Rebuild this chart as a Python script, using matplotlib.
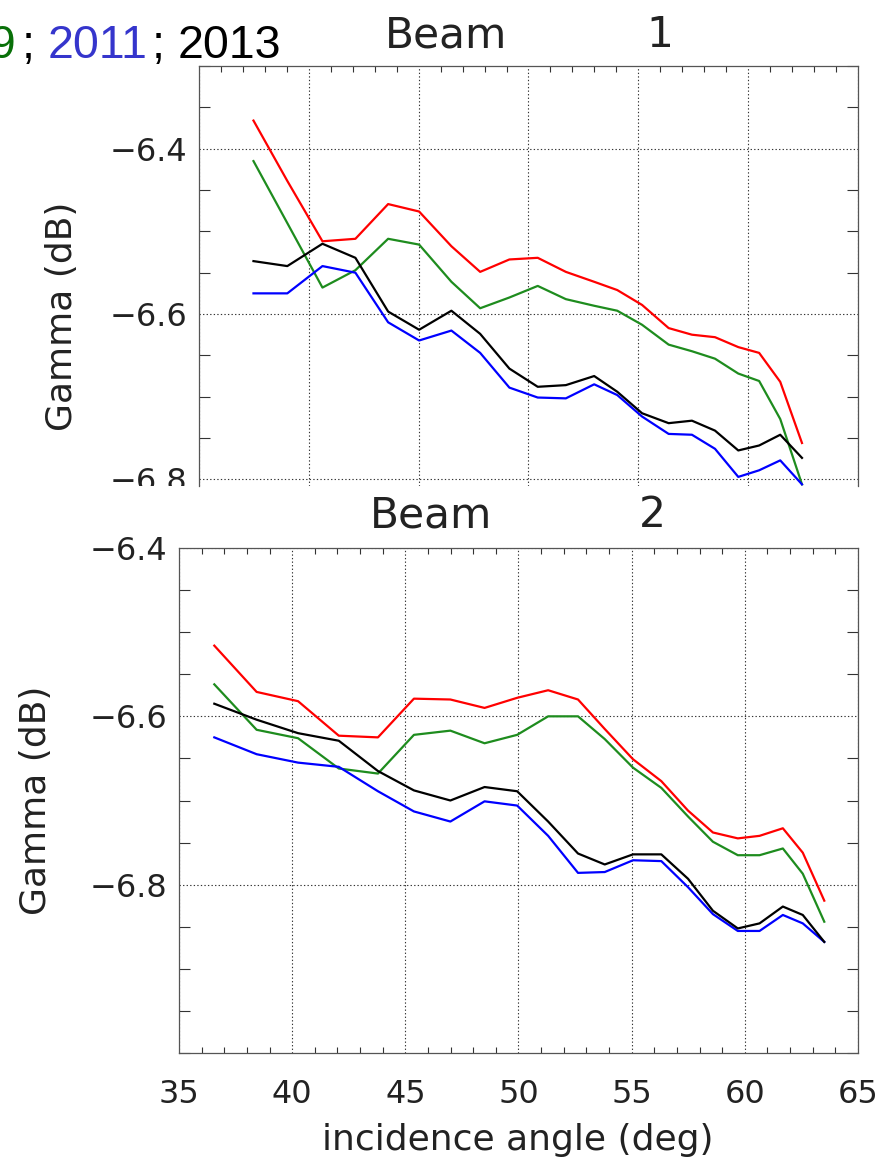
import matplotlib
matplotlib.use("Agg")
import matplotlib.pyplot as plt
from matplotlib.ticker import MultipleLocator, FixedLocator
from matplotlib.patches import Rectangle

# incidence angles of the range bins (deg)
angle_b1 = [37.48, 39.02, 40.62, 42.12, 43.61, 45.02, 46.49, 47.80, 49.13, 50.42, 51.70,
            52.99, 54.04, 55.17, 56.38, 57.44, 58.49, 59.55, 60.50, 61.46, 62.45]
angle_b2 = [36.56, 38.43, 40.26, 42.06, 43.79, 45.38, 46.99, 48.50, 49.94, 51.31, 52.63,
            53.81, 55.06, 56.31, 57.49, 58.59, 59.69, 60.65, 61.68, 62.56, 63.51]

# Beam 1 gamma (dB)
b1_red = [-6.366, -6.439, -6.512, -6.509, -6.467, -6.476, -6.518, -6.549, -6.534, -6.532, -6.549,
          -6.561, -6.571, -6.589, -6.617, -6.625, -6.628, -6.640, -6.647, -6.682, -6.756]
b1_green = [-6.415, -6.490, -6.568, -6.547, -6.509, -6.516, -6.561, -6.593, -6.580, -6.566, -6.582,
            -6.590, -6.596, -6.613, -6.637, -6.645, -6.654, -6.672, -6.681, -6.727, -6.806]
b1_blue = [-6.575, -6.575, -6.542, -6.550, -6.610, -6.632, -6.620, -6.647, -6.689, -6.701, -6.702,
           -6.685, -6.698, -6.724, -6.745, -6.746, -6.763, -6.797, -6.789, -6.777, -6.806]
b1_black = [-6.536, -6.542, -6.515, -6.532, -6.597, -6.619, -6.596, -6.624, -6.666, -6.688, -6.686,
            -6.675, -6.694, -6.720, -6.732, -6.729, -6.741, -6.765, -6.759, -6.746, -6.774]

# Beam 2 gamma (dB)
b2_red = [-6.516, -6.571, -6.582, -6.623, -6.625, -6.579, -6.580, -6.590, -6.578, -6.569, -6.580,
          -6.615, -6.651, -6.677, -6.712, -6.738, -6.745, -6.742, -6.733, -6.762, -6.819]
b2_green = [-6.562, -6.616, -6.626, -6.662, -6.668, -6.622, -6.617, -6.632, -6.622, -6.600, -6.600,
            -6.627, -6.661, -6.685, -6.719, -6.749, -6.765, -6.765, -6.757, -6.787, -6.844]
b2_blue = [-6.625, -6.645, -6.655, -6.660, -6.689, -6.713, -6.725, -6.701, -6.706, -6.742, -6.786,
           -6.785, -6.771, -6.772, -6.803, -6.835, -6.855, -6.855, -6.836, -6.846, -6.868]
b2_black = [-6.585, -6.604, -6.620, -6.629, -6.665, -6.688, -6.700, -6.684, -6.689, -6.725, -6.763,
            -6.776, -6.764, -6.764, -6.793, -6.831, -6.852, -6.846, -6.826, -6.836, -6.868]

years = ["2009", "2011", "2013"]
GREEN = "#1e8c1e"
W, H = 884, 1167

fig = plt.figure(figsize=(W / 100, H / 100), dpi=100)
plt.rcParams['font.family'] = ['DejaVu Sans']


def add_ax(left, top, right, bottom):
    return fig.add_axes([left / W, 1 - bottom / H, (right - left) / W, (bottom - top) / H])


def style(ax, ylo, yhi):
    ax.set_xlim(35, 65)
    ax.set_ylim(ylo, yhi)
    ax.xaxis.set_major_locator(MultipleLocator(5))
    ax.xaxis.set_minor_locator(MultipleLocator(1))
    ax.yaxis.set_major_locator(FixedLocator([-6.8, -6.6, -6.4]))
    ax.yaxis.set_minor_locator(MultipleLocator(0.05))
    ax.tick_params(which='major', length=0, labelsize=23, colors='#222222')
    ax.tick_params(axis='y', which='major', pad=8.5)
    ax.tick_params(axis='x', which='major', pad=19)
    ax.tick_params(which='minor', direction='in', top=True, right=True, width=0.8, color='#333333')
    ax.tick_params(axis='x', which='minor', length=4.5)
    ax.tick_params(axis='y', which='minor', length=8)
    ax.yaxis.set_major_formatter(plt.FuncFormatter(lambda v, p: "\u2212%.1f" % abs(v)))
    ax.grid(True, which='major', linestyle=(0, (1.2, 2.0)), color='#333333', linewidth=0.8)
    for s in ax.spines.values():
        s.set_linewidth(0.9)
        s.set_color('#555555')


def draw(ax, x, red, green, blue, black):
    ax.plot(x, red, color='#ff0000', lw=1.6)
    ax.plot(x, green, color=GREEN, lw=1.6)
    ax.plot(x, blue, color='#0000ff', lw=1.6)
    ax.plot(x, black, color='black', lw=1.6)


# top panel (Beam 1), its lower edge is cut off
ax1 = add_ax(199, 66, 858, 486)
style(ax1, -6.808, -6.3)
ax1.spines['bottom'].set_visible(False)
ax1.tick_params(axis='x', which='both', bottom=False, labelbottom=False)
draw(ax1, angle_b1, b1_red, b1_green, b1_blue, b1_black)

# bottom panel (Beam 2)
ax2 = add_ax(179, 548, 858, 1053)
style(ax2, -7.0, -6.4)
draw(ax2, angle_b2, b2_red, b2_green, b2_blue, b2_black)

# hide lower half of the clipped -6.8 label
fig.patches.append(Rectangle((0, 1 - 500 / H), 198 / W, 14 / H, transform=fig.transFigure,
                             facecolor='white', edgecolor='none', zorder=10))

# titles
fig.text(385 / W, 1 - 47 / H, "Beam", fontsize=30.5, ha='left', va='baseline', color='#222222')
fig.text(660 / W, 1 - 47 / H, "1", fontsize=30.5, ha='center', va='baseline', color='#222222')
fig.text(370 / W, 1 - 527 / H, "Beam", fontsize=30.5, ha='left', va='baseline', color='#222222')
fig.text(652 / W, 1 - 527 / H, "2", fontsize=30.5, ha='center', va='baseline', color='#222222')

# axis labels
fig.text(62 / W, 1 - 316 / H, "Gamma (dB)", fontsize=26, rotation=90, ha='center', va='center', color='#222222')
fig.text(36 / W, 1 - 800 / H, "Gamma (dB)", fontsize=26, rotation=90, ha='center', va='center', color='#222222')
fig.text(518 / W, 1 - 1140 / H, "incidence angle (deg)", fontsize=26, ha='center', va='center', color='#222222')

# year legend, cut by the left edge
yr = dict(fontsize=33.5, fontfamily='Liberation Sans', va='baseline')
base = 1 - 58 / H
fig.text(16 / W, base, years[0], ha='right', color='#087008', **yr)
fig.text(22 / W, base, ";", ha='left', color='black', **yr)
fig.text(48 / W, base, years[1], ha='left', color='#3535cc', **yr)
fig.text(152 / W, base, ";", ha='left', color='black', **yr)
fig.text(178 / W, base, years[2], ha='left', color='black', **yr)

fig.savefig("out.png", dpi=100)
